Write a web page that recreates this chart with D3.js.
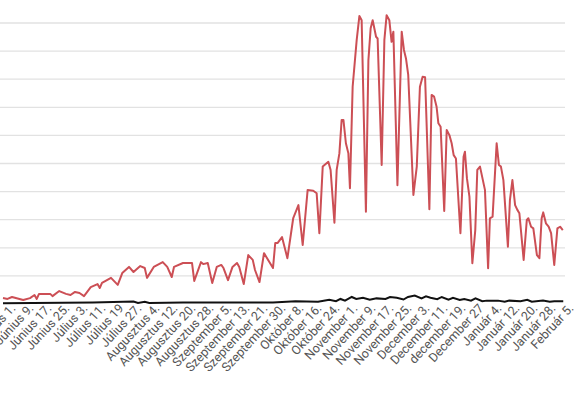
<!DOCTYPE html>
<html><head><meta charset="utf-8">
<script src="https://cdn.jsdelivr.net/npm/d3@7"></script>
<style>body{margin:0;background:#fff}</style></head>
<body><svg id="c" width="575" height="401"></svg>
<script>
const tickDays=[0,8,16,24,32,40,48,56,64,72,80,88,96,104,112,120,128,136,144,152,160,168,176,184,192,200,208,216,224,232,240,248];
const tickLabels=["Június 1.","Június 9.","Június 17.","Június 25.","Július 3.","Július 11.","Július 19","Július 27.","Augusztus 4.","Augusztus 12.","Augusztus 20.","Augusztus 28.","Szeptember 5.","Szeptember 13.","Szeptember 21.","Szeptember 30.","Október 8.","Október 16.","Október 24.","November 1.","November 9.","November 17.","November 25.","December 3.","December 11.","december 19.","December 27","Január 4.","Január 12.","Január 20.","Január 28.","Február 5."];
const caseDays=[0,2,4,9,12,14,15,16,21,22,25,28,30,32,34,36,39,42,43,44,48,51,53,56,58,61,63,64,67,71,73,75,76,80,84,85,88,89,91,93,95,97,98,100,102,104,105,107,109,111,112,114,116,120,121,122,124,126.4,129,131.3,133.2,135.4,137.9,139.4,140.6,142.1,144.6,145.6,147.3,148.3,149.5,150.5,151.3,152.4,153.5,154.2,155.4,157.2,158.4,159.4,161.3,162.4,163.4,164.3,165.8,166.5,168.3,169.5,170.5,171.7,172.7,173.5,175.3,177.2,178.2,179.1,180.1,182.4,183.9,185.3,186.5,187.6,189.5,190.5,191.6,192.7,193.5,194.5,196.1,197.2,198.4,199.4,200.3,201.3,203.3,204.7,205.3,206.2,207.3,208.6,209.9,210.8,212,214.2,215.6,216.4,217.6,219.4,220.4,221.3,222.4,224.4,225.3,226.4,227.6,228.6,229.5,231.4,232.8,233.5,234.7,235.7,237.3,238.4,239.4,240.1,241.3,242.5,243.6,245,246.4,247.6,248.8];
const caseVals=[.21,.18,.25,.14,.21,.32,.18,.36,.36,.28,.46,.36,.32,.43,.39,.28,.6,.71,.57,.75,.93,.68,1.1,1.32,1.14,1.35,1.28,.93,1.32,1.49,1.32,.96,1.32,1.46,1.46,.82,1.49,1.42,1.46,.75,1.32,1.39,1.28,.85,1.32,1.46,1.32,.71,1.74,1.57,1.21,.78,1.81,1.28,2.17,2.17,2.38,1.63,3.06,3.52,2.1,4.06,4.03,3.94,2.52,4.89,5.06,4.77,2.89,4.77,5.36,6.55,6.55,5.72,5.36,4.12,7.73,9.4,10.25,10.1,3.28,8.68,9.81,10.1,9.51,9.45,4.95,9.4,10.28,10.1,9.33,9.69,4.23,9.69,9.04,8.74,8.15,3.88,4.89,7.73,8.09,8.07,3.37,7.44,7.38,7.02,6.43,6.31,3.31,6.19,6.01,5.72,5.3,5.18,2.52,5.24,5.42,4.47,3.82,1.45,2.63,4.77,4.89,4.06,1.27,3.05,3.11,5.72,4.95,4.89,4.41,2.04,3.7,4.41,3.52,3.35,3.23,1.57,2.99,3.05,2.75,2.69,1.74,1.63,3.05,3.26,2.87,2.75,2.52,1.39,2.69,2.75,2.63];
const deathDays=[0,40,58,60,63,65,80,120,130,140,145,148,150,152,155,157,160,163,166,170,172,175,178,180,183,186,188,190,193,195,198,200,203,205,208,210,213,215,220,223,225,230,233,235,240,243,245,249];
const deathVals=[.03,.05,.09,.04,.08,.04,.05,.05,.1,.08,.15,.1,.18,.12,.25,.18,.22,.15,.2,.18,.25,.22,.16,.25,.3,.2,.27,.22,.17,.25,.15,.22,.14,.18,.12,.2,.1,.12,.12,.08,.12,.1,.15,.08,.12,.08,.1,.1];
const gridVals=[1,2,3,4,5,6,7,8,9,10];

const svg=d3.select("#c");
const x=d3.scaleLinear().domain([0,249]).range([3,563.25]);
const y=d3.scaleLinear().domain([0,10]).range([304,23]);
svg.append("g").selectAll("line").data(gridVals).join("line")
 .attr("x1",0).attr("x2",565).attr("y1",d=>y(d)).attr("y2",d=>y(d))
 .attr("stroke","#e2e2e2").attr("stroke-width",1.3);
const ax=svg.append("g").attr("transform","translate(0,305)")
 .call(d3.axisBottom(x).tickValues(tickDays).tickSize(0).tickFormat((d,i)=>tickLabels[i]));
ax.select(".domain").remove();
ax.selectAll("text").attr("font-family","Roboto, Arial, sans-serif").attr("font-size",12.5).attr("fill","#555")
 .attr("text-anchor","end").attr("dx",6).attr("dy",9).attr("transform","rotate(-47)");
const line=d3.line().x(d=>x(d[0])).y(d=>y(d[1]));
svg.append("path").datum(caseDays.map((d,i)=>[d,caseVals[i]])).attr("d",line)
 .attr("fill","none").attr("stroke","#cc4f55").attr("stroke-width",2).attr("stroke-linejoin","round");
svg.append("path").datum(deathDays.map((d,i)=>[d,deathVals[i]])).attr("d",line)
 .attr("fill","none").attr("stroke","#111").attr("stroke-width",2);
</script></body></html>
